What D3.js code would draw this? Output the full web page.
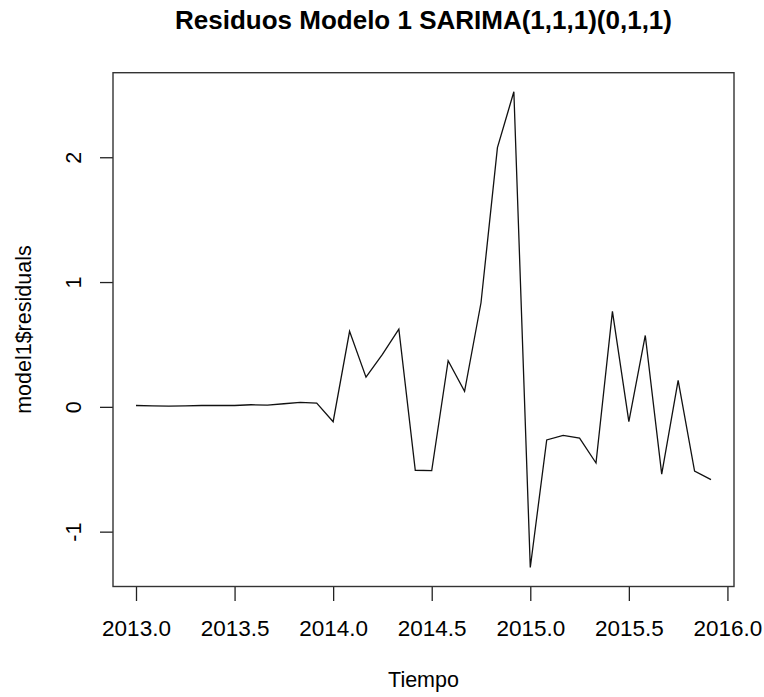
<!DOCTYPE html>
<html>
<head>
<meta charset="utf-8">
<script src="https://cdnjs.cloudflare.com/ajax/libs/d3/7.8.5/d3.min.js"></script>
<style>
  body { margin: 0; background: #fff; }
  svg text { font-family: "Liberation Sans", Arial, Helvetica, sans-serif; fill: #000; }
  .axis path { display: none; }
  .axis line { stroke: #222; stroke-width: 1.3; }
</style>
</head>
<body>
<div id="chart" style="width:764px;height:697px;"></div>
<script>
// monthly residuals, jan 2013 .. dec 2015
const startYear = 2013;
const frequency = 12;
const residuals = [
  0.011, 0.008, 0.006, 0.008, 0.011, 0.011, 0.011, 0.017, 0.014, 0.025, 0.036, 0.030,
  -0.119, 0.605, 0.238, 0.420, 0.622, -0.508, -0.511, 0.370, 0.124, 0.834, 2.077, 2.525,
  -1.287, -0.265, -0.229, -0.251, -0.450, 0.765, -0.119, 0.572, -0.539, 0.213, -0.514, -0.583
];
const xTicks = [2013.0, 2013.5, 2014.0, 2014.5, 2015.0, 2015.5, 2016.0];
const yTicks = [-1, 0, 1, 2];

const titleText = 'Residuos Modelo 1 SARIMA(1,1,1)(0,1,1)';
const xLabel = 'Tiempo';
const yLabel = 'model1$residuals';

class TsPlot {
  constructor(_config, _data) {
    this.config = {
      parentElement: _config.parentElement,
      containerWidth: 764,
      containerHeight: 697,
      margin: {top: 72.7, bottom: 110.5, right: 30, left: 113}
    };
    this.data = _data;
    this.initVis();
  }

  initVis() {
    let vis = this;

    vis.width = vis.config.containerWidth - vis.config.margin.left - vis.config.margin.right;
    vis.height = vis.config.containerHeight - vis.config.margin.top - vis.config.margin.bottom;

    vis.svg = d3.select(vis.config.parentElement).append('svg')
      .attr('width', vis.config.containerWidth)
      .attr('height', vis.config.containerHeight);

    vis.chart = vis.svg.append('g')
      .attr('transform', `translate(${vis.config.margin.left},${vis.config.margin.top})`);

    // R style: 4% padding on each side of the data range
    const padRange = ext => {
      const d = (ext[1] - ext[0]) * 0.04;
      return [ext[0] - d, ext[1] + d];
    };

    vis.xScale = d3.scaleLinear()
      .domain(padRange(d3.extent(vis.data, d => d.t)))
      .range([0, vis.width]);

    vis.yScale = d3.scaleLinear()
      .domain(padRange(d3.extent(vis.data, d => d.v)))
      .range([vis.height, 0]);

    vis.xAxis = d3.axisBottom(vis.xScale)
      .tickValues(xTicks)
      .tickSize(14.5)
      .tickFormat(d3.format('.1f'));

    vis.yAxis = d3.axisLeft(vis.yScale)
      .tickValues(yTicks)
      .tickSize(13)
      .tickFormat(d => d < 0 ? '-' + Math.abs(d) : d);

    vis.xAxisGroup = vis.chart.append('g')
      .attr('class', 'axis x-axis')
      .attr('transform', `translate(0,${vis.height})`)
      .call(vis.xAxis);

    vis.xAxisGroup.selectAll('text')
      .attr('dy', null)
      .attr('y', 49.5)
      .attr('font-size', 22.5);

    vis.yAxisGroup = vis.chart.append('g')
      .attr('class', 'axis y-axis')
      .call(vis.yAxis);

    // rotated tick labels, like base R with las = 0
    vis.yAxisGroup.selectAll('.tick text')
      .attr('x', null)
      .attr('dy', null)
      .attr('text-anchor', 'middle')
      .attr('font-size', 21.5)
      .attr('transform', 'translate(-32,0) rotate(-90)');

    // frame around plot region
    vis.chart.append('rect')
      .attr('width', vis.width)
      .attr('height', vis.height)
      .attr('fill', 'none')
      .attr('stroke', '#333')
      .attr('stroke-width', 1.4);

    vis.line = d3.line()
      .x(d => vis.xScale(d.t))
      .y(d => vis.yScale(d.v));

    vis.chart.append('path')
      .datum(vis.data)
      .attr('fill', 'none')
      .attr('stroke', '#111')
      .attr('stroke-width', 1.3)
      .attr('d', vis.line);

    // titles
    vis.svg.append('text')
      .attr('x', vis.config.margin.left + vis.width / 2)
      .attr('y', 29.3)
      .attr('text-anchor', 'middle')
      .attr('font-size', 26)
      .attr('font-weight', 'bold')
      .text(titleText);

    vis.svg.append('text')
      .attr('x', vis.config.margin.left + vis.width / 2)
      .attr('y', 686.7)
      .attr('text-anchor', 'middle')
      .attr('font-size', 21.5)
      .text(xLabel);

    vis.svg.append('text')
      .attr('transform', `translate(30.5,${vis.config.margin.top + vis.height / 2}) rotate(-90)`)
      .attr('text-anchor', 'middle')
      .attr('font-size', 21.5)
      .text(yLabel);
  }
}

const series = residuals.map((v, i) => ({t: startYear + i / frequency, v: v}));
const plot = new TsPlot({parentElement: '#chart'}, series);
</script>
</body>
</html>
